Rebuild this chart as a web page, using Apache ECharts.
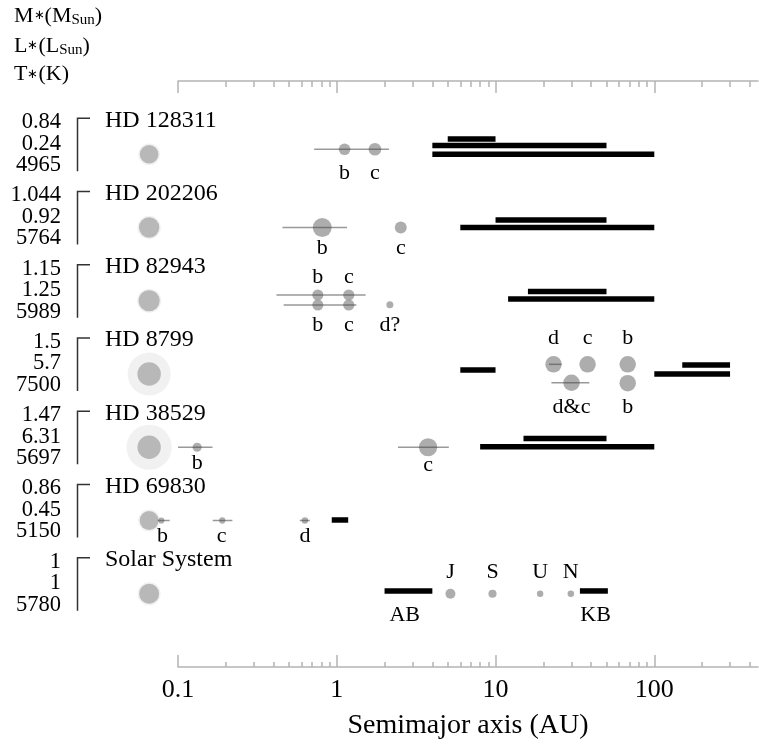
<!DOCTYPE html>
<html><head><meta charset="utf-8">
<script src="https://cdn.jsdelivr.net/npm/echarts@6/dist/echarts.min.js"></script>
<style>html,body{margin:0;padding:0;background:#fff}#c{width:759px;height:745px}</style>
</head><body><div id="c"></div>
<script>
// ---------- data ----------
const systems   = ['HD 128311','HD 202206','HD 82943','HD 8799','HD 38529','HD 69830','Solar System'];
const starMass  = ['0.84','1.044','1.15','1.5','1.47','0.86','1'];
const starLum   = ['0.24','0.92','1.25','5.7','6.31','0.45','1'];
const starTemp  = ['4965','5764','5989','7500','5697','5150','5780'];
const STAR_A = 0.0658;   // column where the host stars are drawn (AU scale)

// planets: [row, a (AU), lane, mass (M_Jup)]
const planets = [
  [0, 1.12, -0.068, 2.18], [0, 1.74, -0.068, 3.21],
  [1, 0.81, 0, 17.4], [1, 2.53, 0, 2.44],
  [2, 0.76, -0.078, 1.7], [2, 1.19, -0.078, 1.8], [2, 0.76, 0.058, 1.7], [2, 1.19, 0.058, 1.8], [2, 2.16, 0.054, 0.1],
  [3, 23.2, -0.132, 10], [3, 38, -0.132, 10], [3, 68, -0.132, 10], [3, 30.1, 0.12, 10], [3, 68, 0.125, 10],
  [4, 0.132, 0, 0.6], [4, 3.76, 0, 15],
  [5, 0.0785, 0, 0.033], [5, 0.19, 0, 0.038], [5, 0.63, 0, 0.058],
  [6, 5.2, 0, 1], [6, 9.57, 0, 0.3], [6, 19.1, 0, 0.046], [6, 29.8, 0, 0.054]
];
// orbit ranges (peri..apo): [row, lane, aMin, aMax]
const orbits = [
  [0, -0.068, 0.72, 2.13],
  [1, 0, 0.455, 1.16],
  [2, -0.078, 0.417, 1.52], [2, 0.058, 0.463, 1.33],
  [3, -0.132, 21.7, 26], [3, 0.12, 22.5, 39],
  [4, 0, 0.1, 0.165], [4, 0, 2.43, 5.08],
  [5, 0, 0.0745, 0.0887], [5, 0, 0.1655, 0.22], [5, 0, 0.585, 0.676]
];
// debris disks / belts: [row, lane, aInner, aOuter]
const disks = [
  [0, -0.208, 5, 10], [0, -0.119, 4, 50], [0, 0, 4, 100],
  [1, -0.102, 10, 50], [1, 0, 6, 100],
  [2, -0.126, 16, 50], [2, -0.024, 12, 100],
  [3, -0.055, 6, 10], [3, -0.123, 150, 300], [3, 0, 100, 300],
  [4, -0.119, 15, 50], [4, -0.008, 8, 100],
  [5, -0.007, 0.93, 1.18],
  [6, -0.038, 2, 4], [6, -0.038, 34, 51]
];
// annotations: [row, lane, a, text]
const labels = [
  [0, 0.256, 1.12, 'b'], [0, 0.256, 1.74, 'c'],
  [1, 0.284, 0.81, 'b'], [1, 0.284, 2.53, 'c'],
  [2, -0.328, 0.76, 'b'], [2, -0.328, 1.19, 'c'], [2, 0.331, 0.76, 'b'], [2, 0.331, 1.19, 'c'], [2, 0.331, 2.16, 'd?'],
  [3, -0.487, 23.2, 'd'], [3, -0.487, 38, 'c'], [3, -0.487, 68, 'b'], [3, 0.45, 30.1, 'd&c'], [3, 0.45, 68, 'b'],
  [4, 0.219, 0.132, 'b'], [4, 0.242, 3.76, 'c'],
  [5, 0.221, 0.08, 'b'], [5, 0.221, 0.188, 'c'], [5, 0.221, 0.63, 'd'],
  [6, -0.297, 5.2, 'J'], [6, -0.297, 9.57, 'S'], [6, -0.297, 19.1, 'U'], [6, -0.297, 29.8, 'N'],
  [6, 0.29, 2.68, 'AB'], [6, 0.29, 42.7, 'KB']
];
const majorTicks = [0.1, 1, 10, 100];
const minorTicks = [0.2,0.3,0.4,0.5,0.6,0.7,0.8,0.9, 2,3,4,5,6,7,8,9, 20,30,40,50,60,70,80,90, 200,300,400];
const xTitle = 'Semimajor axis (AU)';

// ---------- rendering ----------
const FONT = '"Liberation Serif","Times New Roman",serif';
const AXIS_COL = '#b4b4b4';
const BAR_H = 5.5;
const planetR = m => 2.2 + 2.8 * Math.cbrt(m);
const starR = M => 10 * Math.pow(M, 0.4);
const haloR = (M, L) => Math.max(starR(M) + 1.5, 9 * Math.sqrt(L));

const chart = echarts.init(document.getElementById('c'), null, {renderer: 'canvas'});
const axisBase = {type: 'log', logBase: 10, min: 0.1, max: 450, splitLine: {show: false}, minorTick: {show: false}, axisLabel: {show: false}};
const tickStyle = {color: AXIS_COL, width: 1.5};

const option = {
  animation: false,
  backgroundColor: '#fff',
  grid: {left: 178, right: 1, top: 81, bottom: 78, containLabel: false},
  xAxis: [
    Object.assign({}, axisBase, {
      position: 'bottom',
      axisLine: {show: true, onZero: false, lineStyle: tickStyle},
      axisTick: {show: true, inside: true, length: 12, lineStyle: tickStyle, customValues: majorTicks},
      axisLabel: {show: true, customValues: majorTicks, margin: 10, color: '#000', fontFamily: FONT, fontSize: 26,
        formatter: v => String(+Number(v).toPrecision(3))},
      name: xTitle, nameLocation: 'middle', nameGap: 45,
      nameTextStyle: {color: '#000', fontFamily: FONT, fontSize: 28}
    }),
    Object.assign({}, axisBase, {
      position: 'bottom', axisLine: {show: false, onZero: false},
      axisTick: {show: true, inside: true, length: 5, lineStyle: tickStyle, customValues: minorTicks}
    }),
    Object.assign({}, axisBase, {
      position: 'top', axisLine: {show: true, onZero: false, lineStyle: tickStyle},
      axisTick: {show: true, inside: true, length: 12, lineStyle: tickStyle, customValues: majorTicks}
    }),
    Object.assign({}, axisBase, {
      position: 'top', axisLine: {show: false, onZero: false},
      axisTick: {show: true, inside: true, length: 6, lineStyle: tickStyle, customValues: minorTicks}
    })
  ],
  yAxis: {type: 'value', inverse: true, min: -1, max: 7, show: false},
  graphic: [
    {type: 'text', x: 14, y: 16, style: {text: '{a|M}{s|∗}{a|(M}{b|Sun}{a|)}', verticalAlign: 'middle',
      rich: {a: {fontFamily: FONT, fontSize: 22, fill: '#000', lineHeight: 24},
             s: {fontFamily: FONT, fontSize: 13, fill: '#000', lineHeight: 24},
             b: {fontFamily: FONT, fontSize: 15, fill: '#000', lineHeight: 24, verticalAlign: 'bottom'}}}},
    {type: 'text', x: 14, y: 46, style: {text: '{a|L}{s|∗}{a|(L}{b|Sun}{a|)}', verticalAlign: 'middle',
      rich: {a: {fontFamily: FONT, fontSize: 22, fill: '#000', lineHeight: 24},
             s: {fontFamily: FONT, fontSize: 13, fill: '#000', lineHeight: 24},
             b: {fontFamily: FONT, fontSize: 15, fill: '#000', lineHeight: 24, verticalAlign: 'bottom'}}}},
    {type: 'text', x: 14, y: 74.5, style: {text: '{a|T}{s|∗}{a|(K)}', verticalAlign: 'middle',
      rich: {a: {fontFamily: FONT, fontSize: 22, fill: '#000', lineHeight: 24},
             s: {fontFamily: FONT, fontSize: 13, fill: '#000', lineHeight: 24}}}}
  ],
  series: [
    { // row captions, stellar parameters and brackets
      type: 'custom', silent: true, clip: false,
      data: systems.map((s, i) => [1, i]), encode: {x: 0, y: 1},
      renderItem: (params, api) => {
        const i = api.value(1);
        const y = api.coord([1, i])[1];
        const txt = (x, yy, t, size, align) => ({type: 'text', x: x, y: yy,
          style: {text: t, font: size + 'px ' + FONT, fill: '#000', align: align, verticalAlign: 'middle'}});
        return {type: 'group', children: [
          txt(105, y - 34, systems[i], 24, 'left'),
          txt(61, y - 32, starMass[i], 22.5, 'right'),
          txt(61, y - 10.5, starLum[i], 22.5, 'right'),
          txt(61, y + 11, starTemp[i], 22.5, 'right'),
          {type: 'polyline', shape: {points: [[90, y - 36], [77.5, y - 36], [77.5, y + 17]]},
           style: {stroke: '#333', lineWidth: 1.5, fill: null}}
        ]};
      }
    },
    { // stellar halos
      type: 'scatter', silent: true, clip: false, z: 2,
      data: systems.map((s, i) => [STAR_A, i, +starMass[i], +starLum[i]]),
      symbolSize: v => 2 * haloR(v[2], v[3]),
      itemStyle: {color: '#eeeeee'}
    },
    { // stars
      type: 'scatter', silent: true, clip: false, z: 3,
      data: systems.map((s, i) => [STAR_A, i, +starMass[i]]),
      symbolSize: v => 2 * starR(v[2]),
      itemStyle: {color: '#aaaaaa'}
    },
    { // disks / belts
      type: 'custom', silent: true, clip: false, z: 3,
      data: disks.map(d => [d[2], d[3], d[0] + d[1]]), encode: {x: [0, 1], y: 2},
      renderItem: (params, api) => {
        const p0 = api.coord([api.value(0), api.value(2)]);
        const p1 = api.coord([api.value(1), api.value(2)]);
        return {type: 'rect', shape: {x: p0[0], y: p0[1] - BAR_H / 2, width: p1[0] - p0[0], height: BAR_H},
                style: {fill: '#000'}};
      }
    },
    { // planets
      type: 'scatter', silent: true, clip: false, z: 4,
      data: planets.map(p => [p[1], p[0] + p[2], p[3]]),
      symbolSize: v => 2 * planetR(v[2]),
      itemStyle: {color: '#999999'}
    },
    { // orbit ranges
      type: 'custom', silent: true, clip: false, z: 5,
      data: orbits.map(o => [o[2], o[3], o[0] + o[1]]), encode: {x: [0, 1], y: 2},
      renderItem: (params, api) => {
        const p0 = api.coord([api.value(0), api.value(2)]);
        const p1 = api.coord([api.value(1), api.value(2)]);
        return {type: 'line', shape: {x1: p0[0], y1: p0[1], x2: p1[0], y2: p1[1]},
                style: {stroke: 'rgba(70,70,70,0.55)', lineWidth: 1.5}};
      }
    },
    { // annotations
      type: 'custom', silent: true, clip: false, z: 6,
      data: labels.map(l => [l[2], l[0] + l[1]]), encode: {x: 0, y: 1},
      renderItem: (params, api) => {
        const p = api.coord([api.value(0), api.value(1)]);
        return {type: 'text', x: p[0], y: p[1],
                style: {text: labels[params.dataIndex][3], font: '22px ' + FONT, fill: '#000', align: 'center', verticalAlign: 'middle'}};
      }
    }
  ]
};
chart.setOption(option);
</script>
</body></html>
